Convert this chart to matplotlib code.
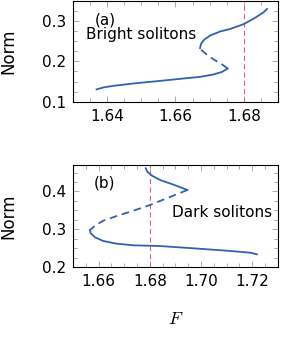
import matplotlib
matplotlib.use('Agg')
import matplotlib.pyplot as plt
from matplotlib.ticker import MultipleLocator

plt.rcParams['font.family'] = 'DejaVu Sans'
plt.rcParams['mathtext.fontset'] = 'cm'
plt.rcParams['lines.scale_dashes'] = False

# --- dados: (a) solitons brilhantes ---
a_low_F = [1.6369, 1.6389, 1.6418, 1.6477, 1.6526, 1.6575, 1.6623, 1.6672, 1.6711, 1.6736, 1.6753]
a_low_N = [0.1305, 0.1354, 0.1393, 0.1452, 0.1492, 0.1533, 0.1575, 0.1615, 0.1674, 0.1737, 0.1821]
a_mid_F = [1.6753, 1.6736, 1.6711, 1.6692, 1.6677, 1.6672]
a_mid_N = [0.1821, 0.1927, 0.2050, 0.2165, 0.2271, 0.2327]
a_up_F = [1.6672, 1.6675, 1.6684, 1.6702, 1.6731, 1.6760, 1.6800, 1.6833, 1.6858, 1.6868]
a_up_N = [0.2327, 0.2436, 0.2534, 0.2640, 0.2738, 0.2800, 0.2920, 0.3075, 0.3212, 0.3296]

# --- (b) solitons escuros ---
b_up_F = [1.6784, 1.6790, 1.6808, 1.6840, 1.6892, 1.6947]
b_up_N = [0.4613, 0.4523, 0.4417, 0.4303, 0.4179, 0.4038]
b_mid_F = [1.6947, 1.6905, 1.6866, 1.6801, 1.6736, 1.6671, 1.6618, 1.6586, 1.6566]
b_mid_N = [0.4038, 0.3924, 0.3819, 0.3641, 0.3490, 0.3350, 0.3226, 0.3093, 0.2979]
b_low_F = [1.6566, 1.6569, 1.6586, 1.6618, 1.6671, 1.6736, 1.6840, 1.6970, 1.7100, 1.7192, 1.7218]
b_low_N = [0.2979, 0.2892, 0.2786, 0.2688, 0.2617, 0.2574, 0.2555, 0.2495, 0.2432, 0.2379, 0.2336]

F_marker = 1.68

blue = '#2f62b0'
red = '#d9607e'

fig = plt.figure(figsize=(2.83, 3.38), dpi=100)
ax1 = fig.add_axes([0.258, 0.699, 0.724, 0.299])
ax2 = fig.add_axes([0.258, 0.210, 0.724, 0.302])


def style(ax):
    ax.tick_params(which='both', direction='in', top=True, right=True,
                   color='#a0a0a0', width=0.6, labelsize=11, pad=5)
    ax.tick_params(which='major', length=4.5)
    ax.tick_params(which='minor', length=3)
    for s in ax.spines.values():
        s.set_linewidth(0.8)


# painel (a)
ax1.axvline(F_marker, color=red, lw=0.8, dashes=(3.6, 2.4))
ax1.plot(a_low_F, a_low_N, color=blue, lw=1.3)
ax1.plot(a_mid_F, a_mid_N, color=blue, lw=1.3, dashes=(5.5, 3.5))
ax1.plot(a_up_F, a_up_N, color=blue, lw=1.3)
ax1.set_xlim(1.63, 1.69)
ax1.set_ylim(0.1, 0.35)
ax1.set_xticks([1.64, 1.66, 1.68])
ax1.set_yticks([0.1, 0.2, 0.3])
ax1.xaxis.set_minor_locator(MultipleLocator(0.005))
ax1.yaxis.set_minor_locator(MultipleLocator(0.025))
style(ax1)
ax1.set_ylabel('Norm', fontsize=12)
ax1.yaxis.set_label_coords(-0.27, 0.5)
ax1.text(0.107, 0.764, '(a)', transform=ax1.transAxes, fontsize=11, va='baseline')
ax1.text(0.063, 0.623, 'Bright solitons', transform=ax1.transAxes, fontsize=11, va='baseline')

# painel (b)
ax2.axvline(F_marker, color=red, lw=0.8, dashes=(3.6, 2.4))
ax2.plot(b_up_F, b_up_N, color=blue, lw=1.3)
ax2.plot(b_mid_F, b_mid_N, color=blue, lw=1.3, dashes=(5.5, 3.5))
ax2.plot(b_low_F, b_low_N, color=blue, lw=1.3)
ax2.set_xlim(1.65, 1.73)
ax2.set_ylim(0.2, 0.47)
ax2.set_xticks([1.66, 1.68, 1.70, 1.72])
ax2.set_xticklabels(['1.66', '1.68', '1.70', '1.72'])
ax2.set_yticks([0.2, 0.3, 0.4])
ax2.xaxis.set_minor_locator(MultipleLocator(0.005))
ax2.yaxis.set_minor_locator(MultipleLocator(0.025))
style(ax2)
ax2.set_ylabel('Norm', fontsize=12)
ax2.yaxis.set_label_coords(-0.27, 0.5)
ax2.set_xlabel('$F$', fontsize=13)
ax2.xaxis.set_label_coords(0.5, -0.42)
ax2.text(0.099, 0.781, '(b)', transform=ax2.transAxes, fontsize=11, va='baseline')
ax2.text(0.481, 0.487, 'Dark solitons', transform=ax2.transAxes, fontsize=11, va='baseline')

fig.savefig('out.png', dpi=100)
